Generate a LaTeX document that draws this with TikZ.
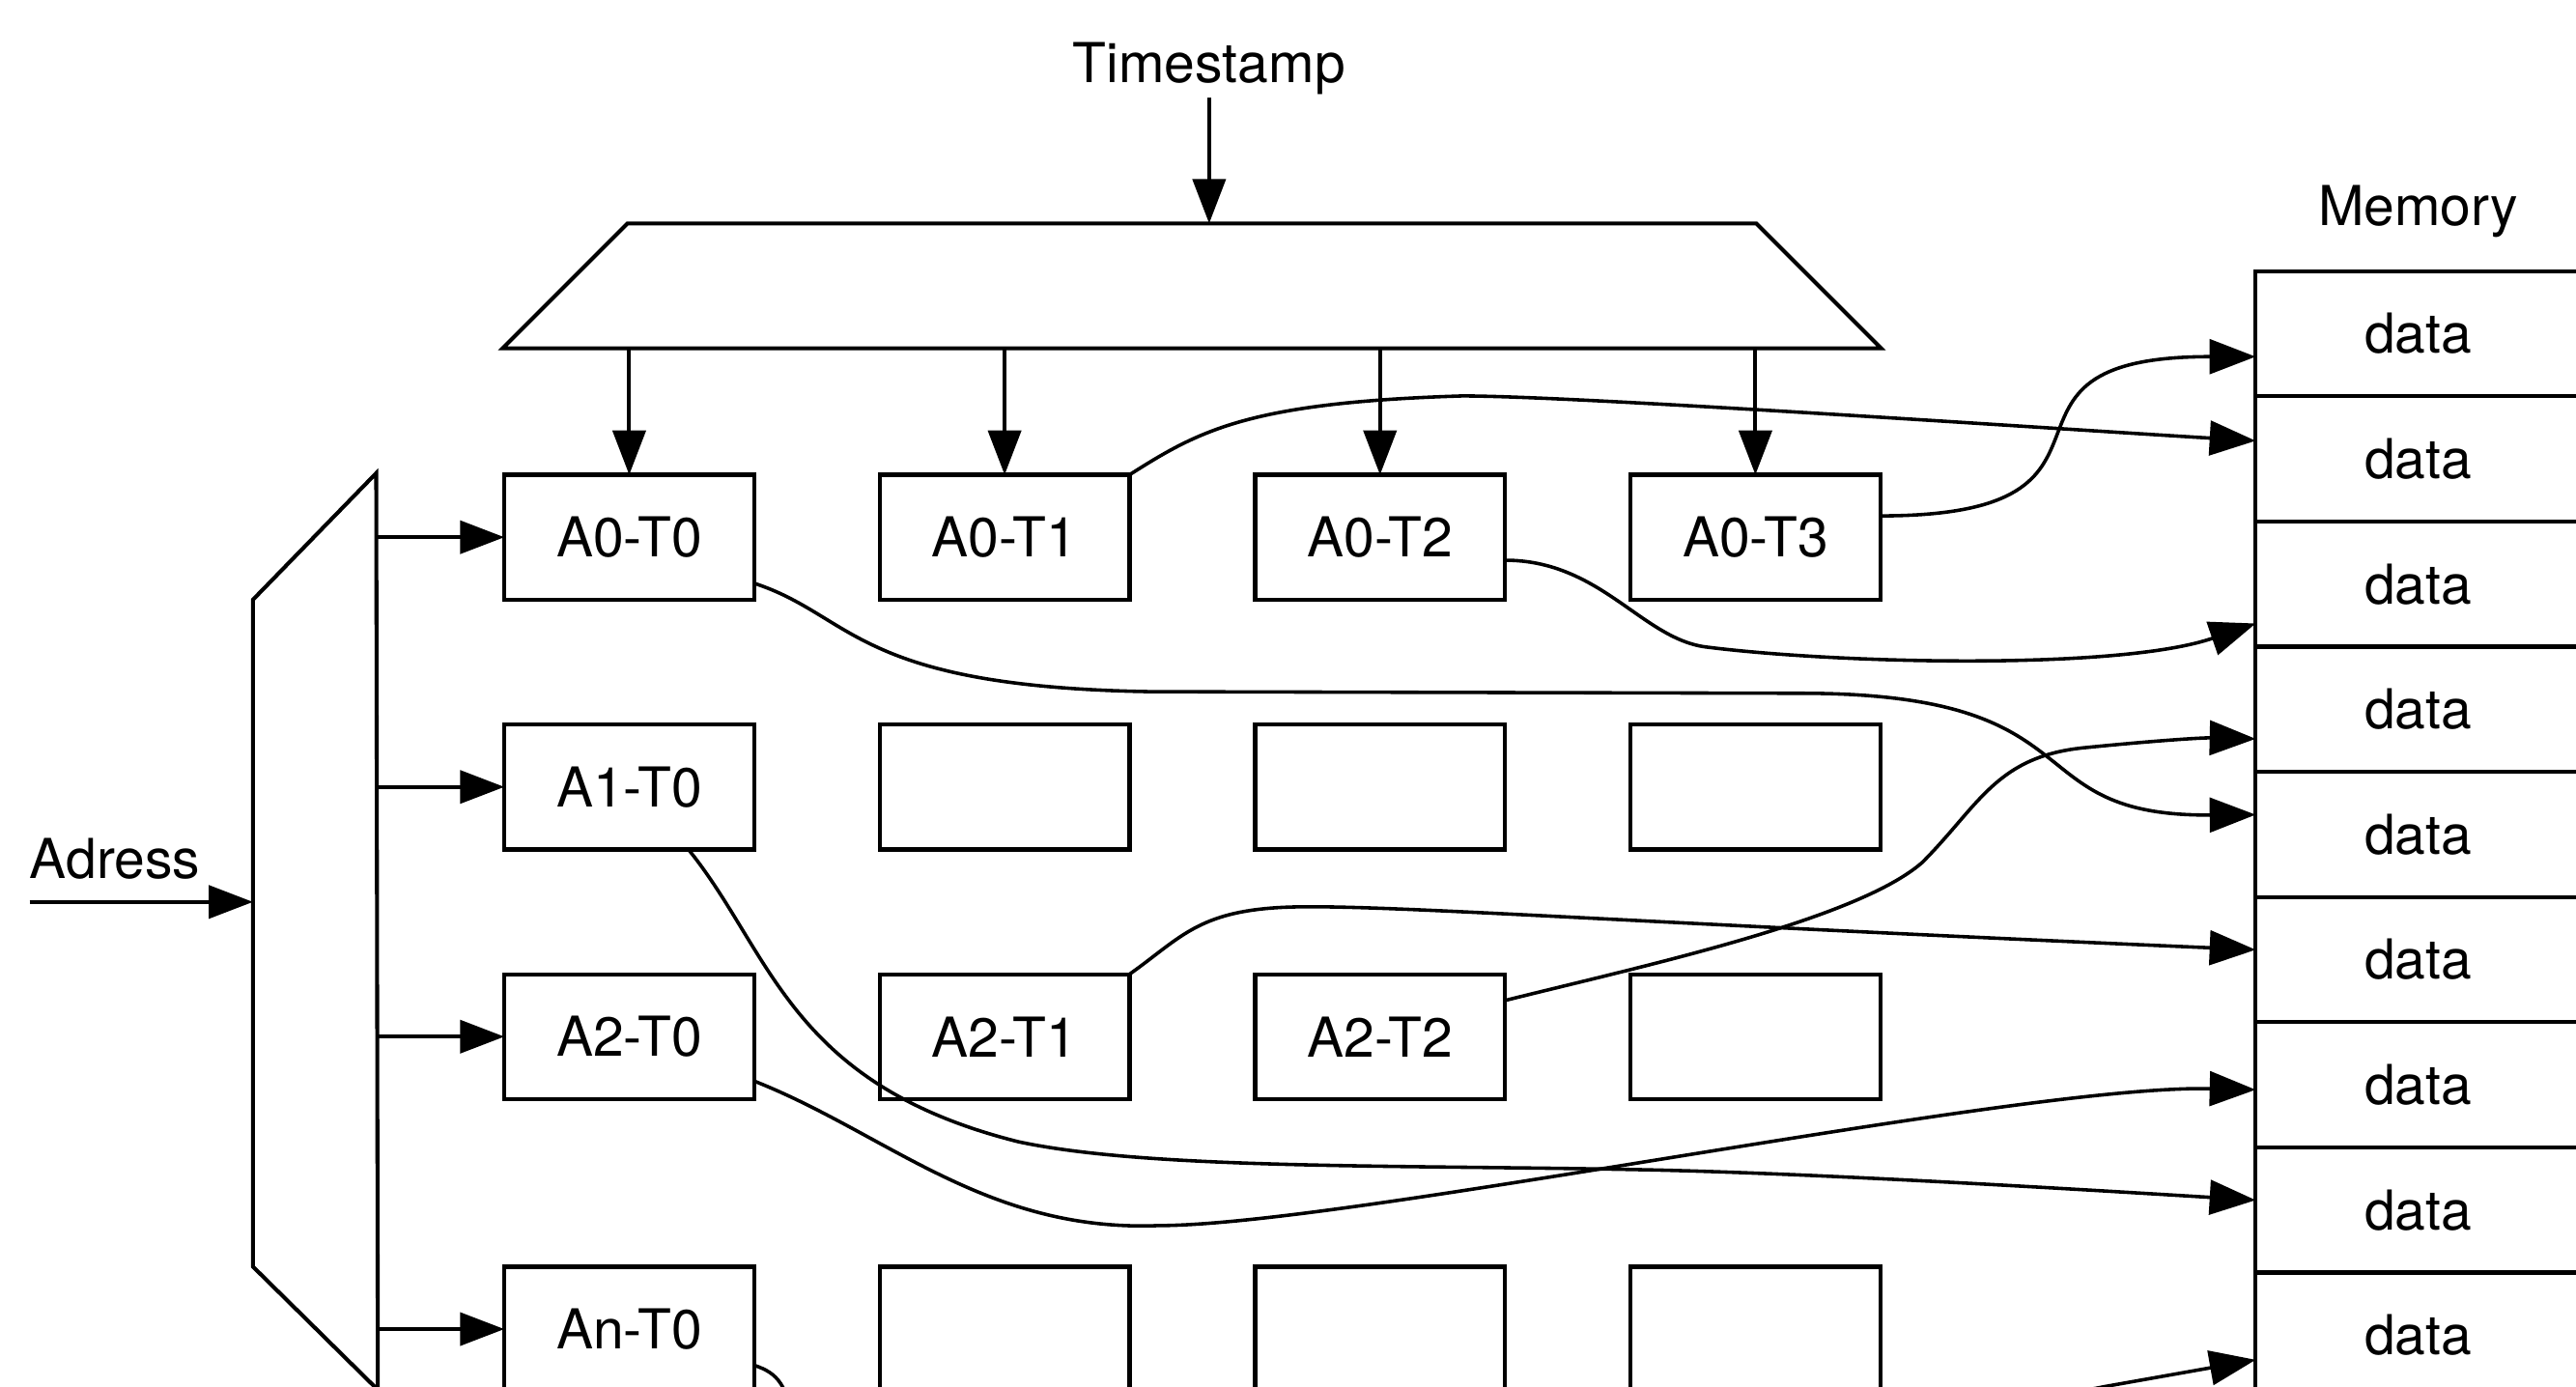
\documentclass[tikz,border=0pt]{standalone}
\usepackage{fontspec}
\setmainfont{TeX Gyre Heros}
\usetikzlibrary{arrows.meta,calc}
\begin{document}
\begin{tikzpicture}[x=1pt,y=-1pt,
  font=\fontsize{33.5}{40}\selectfont,
  cell/.style={draw, line width=2.5pt, minimum width=152pt, minimum height=76pt, inner sep=0pt, outer sep=0pt},
  memcell/.style={draw, line width=2.5pt, minimum width=198pt, minimum height=76.2pt, inner sep=0pt, outer sep=0pt},
  lbl/.style={inner sep=0pt, anchor=base},
  arr/.style={line width=2.4pt, -{Triangle[length=27pt,width=20pt]}},
  link/.style={line width=2.1pt, -{Triangle[length=28pt,width=21pt]}},
  outline/.style={line width=2.4pt, line join=miter}
]
\useasboundingbox (0,0) rectangle (1568,844);
\clip (0,0) rectangle (1568,844);

% labels
\node[lbl] (ts) at (736,50) {Timestamp};
\node[lbl] (memlbl) at (1472,137) {Memory};
\node[lbl, anchor=base west] (adr) at (18,535) {Adress};

% timestamp decoder
\coordinate (tTL) at (382,136);
\coordinate (tTR) at (1069,136);
\coordinate (tBR) at (1145,212);
\coordinate (tBL) at (306,212);
\draw[outline] (tTL) -- (tTR) -- (tBR) -- (tBL) -- cycle;
\draw[arr] ($(ts.south)+(0,2)$) -- (ts.south |- tTL);

% address decoder
\coordinate (muxTR) at (229,288);
\coordinate (muxLT) at (154,365);
\coordinate (muxLB) at (154,771);
\coordinate (muxBR) at (230,846);
\draw[outline] (muxTR) -- (muxLT) -- (muxLB) -- (muxBR) -- cycle;
\coordinate (adrin) at (18,549);
\draw[arr] (adrin) -- (muxLT |- adrin);

% cells
\node[cell] (a00) at (383,327) {A0-T0};
\node[cell] (a01) at (611.5,327) {A0-T1};
\node[cell] (a02) at (840,327) {A0-T2};
\node[cell] (a03) at (1068.5,327) {A0-T3};
\node[cell] (a10) at (383,479) {A1-T0};
\node[cell] (a11) at (611.5,479) {};
\node[cell] (a12) at (840,479) {};
\node[cell] (a13) at (1068.5,479) {};
\node[cell] (a20) at (383,631) {A2-T0};
\node[cell] (a21) at (611.5,631) {A2-T1};
\node[cell] (a22) at (840,631) {A2-T2};
\node[cell] (a23) at (1068.5,631) {};
\node[cell] (an0) at (383,809) {An-T0};
\node[cell] (an1) at (611.5,809) {};
\node[cell] (an2) at (840,809) {};
\node[cell] (an3) at (1068.5,809) {};

% decoder outputs
\foreach \b in {a00,a01,a02,a03}
  \draw[arr] (\b.north |- tBL) -- (\b.north);
\foreach \b in {a00,a10,a20,an0}
  \draw[arr] (muxTR |- \b.west) -- (\b.west);

% memory
\foreach \i in {0,...,8}
  \node[memcell] (m\i) at (1472,{165+76.2*(\i+0.5)}) {data};

% links to memory
\draw[link] (a01.north east) .. controls (730,262) and (760,245) .. (890,241)
  .. controls (960,241) and (1250,261) .. ($(m1.west)+(0,-11)$);
\draw[link] ($(a03.east)+(0,-13)$) .. controls (1317,314) and (1191,217) .. ($(m0.west)+(0,14)$);
\draw[link] ($(a02.east)+(0,14)$) .. controls (975,341) and (1000,390) .. (1040,394)
  .. controls (1120,404) and (1290,408) .. ($(m2.west)+(0,24)$);
\draw[link] ($(a00.east)+(0,28)$) .. controls (520,375) and (520,418) .. (700,421)
  -- (1100,422) .. controls (1280,423) and (1225,497) .. ($(m4.west)+(0,-12)$);
\draw[link] ($(a10.south)+(36,0)$) .. controls (470,580) and (480,660) .. (620,695)
  .. controls (700,712) and (850,709) .. (1000,712)
  .. controls (1100,714) and (1250,723) .. ($(m7.west)+(0,-6)$);
\draw[link] (a21.north east) .. controls (720,570) and (730,553) .. (790,552)
  .. controls (850,551) and (1000,562) .. ($(m5.west)+(0,-6)$);
\draw[link] ($(a22.east)+(0,-22)$) .. controls (1000,588) and (1130,560) .. (1170,525)
  .. controls (1205,490) and (1215,460) .. (1270,455)
  .. controls (1310,451) and (1340,449) .. ($(m3.west)+(0,18)$);
\draw[link] ($(a20.east)+(0,27)$) .. controls (540,690) and (600,750) .. (705,746)
  .. controls (820,746) and (1230,660) .. ($(m6.west)+(0,3)$);
\draw[link] ($(an0.east)+(0,22)$) .. controls (474,836) and (479,843) .. (484,870)
  .. controls (500,950) and (1100,880) .. (1281,844) -- ($(m8.west)+(0,15)$);
\end{tikzpicture}
\end{document}
